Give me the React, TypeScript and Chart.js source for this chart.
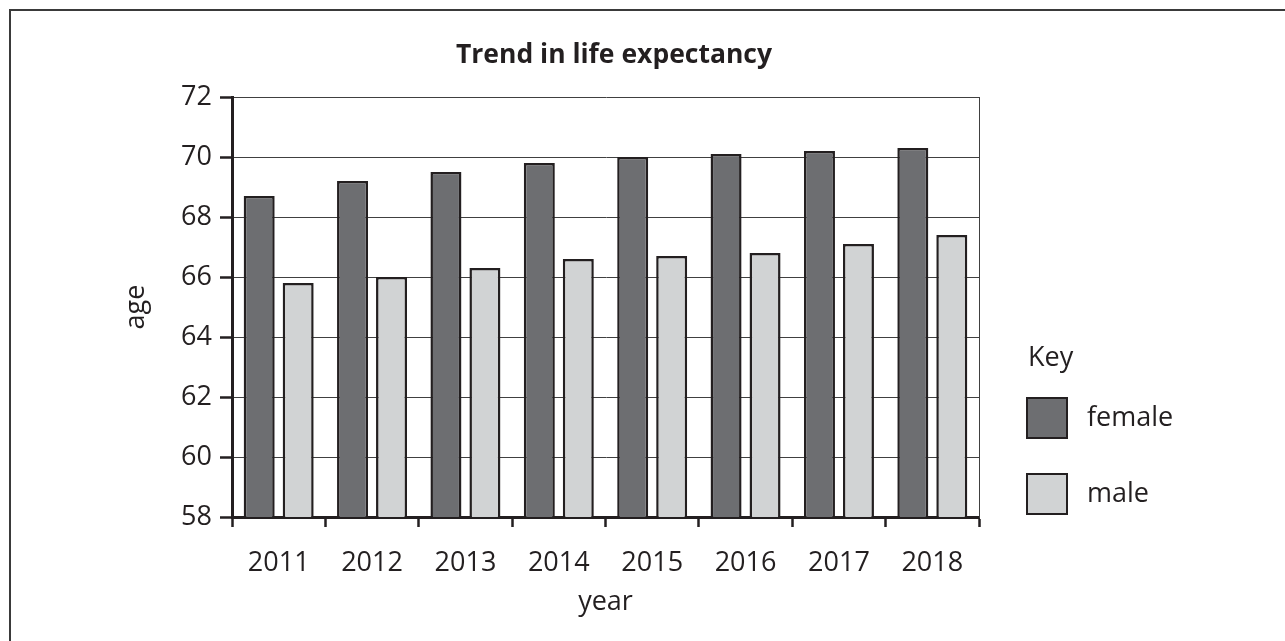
import React, { useEffect, useRef } from 'react';
import { Chart, registerables } from 'chart.js';

Chart.register(...registerables);

const categories = ['2011', '2012', '2013', '2014', '2015', '2016', '2017', '2018'];
const femaleValues = [68.7, 69.2, 69.5, 69.8, 70.0, 70.1, 70.2, 70.3];
const maleValues = [65.8, 66.0, 66.3, 66.6, 66.7, 66.8, 67.1, 67.4];
const yTicks = [58, 60, 62, 64, 66, 68, 70, 72];
const seriesLabels = ['female', 'male'];
const titleText = 'Trend in life expectancy';
const xTitle = 'year';
const yTitle = 'age';
const legendTitle = 'Key';

const FONT = "'Open Sans', sans-serif";
const TEXT = '#231f20';
const EDGE = '#231f20';
const GRID = '#404040';
const FEMALE = '#6d6e71';
const MALE = '#d1d3d4';

const keyPlugin = {
  id: 'keyLegend',
  afterDraw(chart: any) {
    const { ctx, chartArea } = chart;
    const midY = (chartArea.top + chartArea.bottom) / 2;
    const boxX = chartArea.right + 47;
    const box = 42;
    ctx.save();
    ctx.font = `27px ${FONT}`;
    ctx.textBaseline = 'middle';
    ctx.textAlign = 'left';
    ctx.fillStyle = TEXT;
    ctx.fillText(legendTitle, boxX + 2, midY + 51);
    chart.data.datasets.forEach((ds: any, i: number) => {
      const top = midY + 90 + i * 76;
      ctx.fillStyle = ds.backgroundColor;
      ctx.fillRect(boxX, top, box, box);
      ctx.lineWidth = 2;
      ctx.strokeStyle = ds.borderColor;
      ctx.strokeRect(boxX + 1, top + 1, box - 2, box - 2);
      ctx.fillStyle = TEXT;
      ctx.fillText(ds.label, boxX + box + 19, top + box / 2);
    });
    ctx.restore();
  },
};

export default function App() {
  const ref = useRef<HTMLCanvasElement>(null);

  useEffect(() => {
    const canvas = ref.current;
    if (!canvas) return;
    Chart.defaults.font.family = FONT;
    Chart.defaults.color = TEXT;
    const chart = new Chart(canvas, {
      type: 'bar',
      data: {
        labels: categories,
        datasets: [
          {
            label: seriesLabels[0],
            data: femaleValues,
            backgroundColor: FEMALE,
            borderColor: EDGE,
            borderWidth: 2.5,
            categoryPercentage: 0.835,
            barPercentage: 0.795,
          },
          {
            label: seriesLabels[1],
            data: maleValues,
            backgroundColor: MALE,
            borderColor: EDGE,
            borderWidth: 2.5,
            categoryPercentage: 0.835,
            barPercentage: 0.795,
          },
        ],
      },
      options: {
        responsive: false,
        animation: false,
        layout: { padding: { left: 0, right: 57, top: 0, bottom: 0 } },
        plugins: {
          legend: { display: false },
          tooltip: { enabled: false },
          title: {
            display: true,
            text: titleText,
            color: TEXT,
            font: { size: 26.5, weight: 'bold', family: FONT },
            padding: { top: 40, bottom: 25.2 },
          },
        },
        scales: {
          x: {
            grid: {
              display: true,
              drawOnChartArea: false,
              drawTicks: true,
              tickLength: 10,
              tickColor: EDGE,
              tickWidth: 2.5,
            },
            border: { display: true, color: EDGE, width: 3 },
            ticks: {
              font: { size: 27, family: FONT },
              color: TEXT,
              padding: 20,
              maxRotation: 0,
              autoSkip: false,
            },
            title: {
              display: true,
              text: xTitle,
              color: TEXT,
              font: { size: 27, family: FONT },
              padding: { top: 0, bottom: 22 },
            },
            afterFit: (s: any) => {
              s.height = 124;
            },
          },
          y: {
            min: 58,
            max: 72,
            afterBuildTicks: (s: any) => {
              s.ticks = yTicks.map((v) => ({ value: v }));
            },
            grid: {
              color: GRID,
              lineWidth: 1,
              tickLength: 12,
              tickColor: EDGE,
              tickWidth: 2.5,
            },
            border: { display: true, color: EDGE, width: 3 },
            ticks: {
              font: { size: 27, family: FONT },
              color: TEXT,
              padding: 8,
            },
            title: {
              display: true,
              text: yTitle,
              color: TEXT,
              font: { size: 27, family: FONT },
              padding: { top: 120, bottom: 0 },
            },
            afterFit: (s: any) => {
              s.width = 232;
            },
          },
          y2: {
            type: 'linear',
            position: 'right',
            display: true,
            grid: { display: false, drawOnChartArea: false, drawTicks: false },
            ticks: { display: false },
            border: { display: true, color: GRID, width: 1 },
            afterFit: (s: any) => {
              s.width = 249;
            },
          },
        },
      } as any,
      plugins: [keyPlugin],
    });
    return () => chart.destroy();
  }, []);

  return (
    <>
      <div
        style={{
          position: 'fixed',
          left: 9,
          top: 9,
          width: 1400,
          height: 800,
          border: '2px solid #3a3a3a',
        }}
      />
      <canvas
        ref={ref}
        width={1285}
        height={641}
        style={{ position: 'fixed', left: 0, top: 0, width: 1285, height: 641 }}
      />
    </>
  );
}
